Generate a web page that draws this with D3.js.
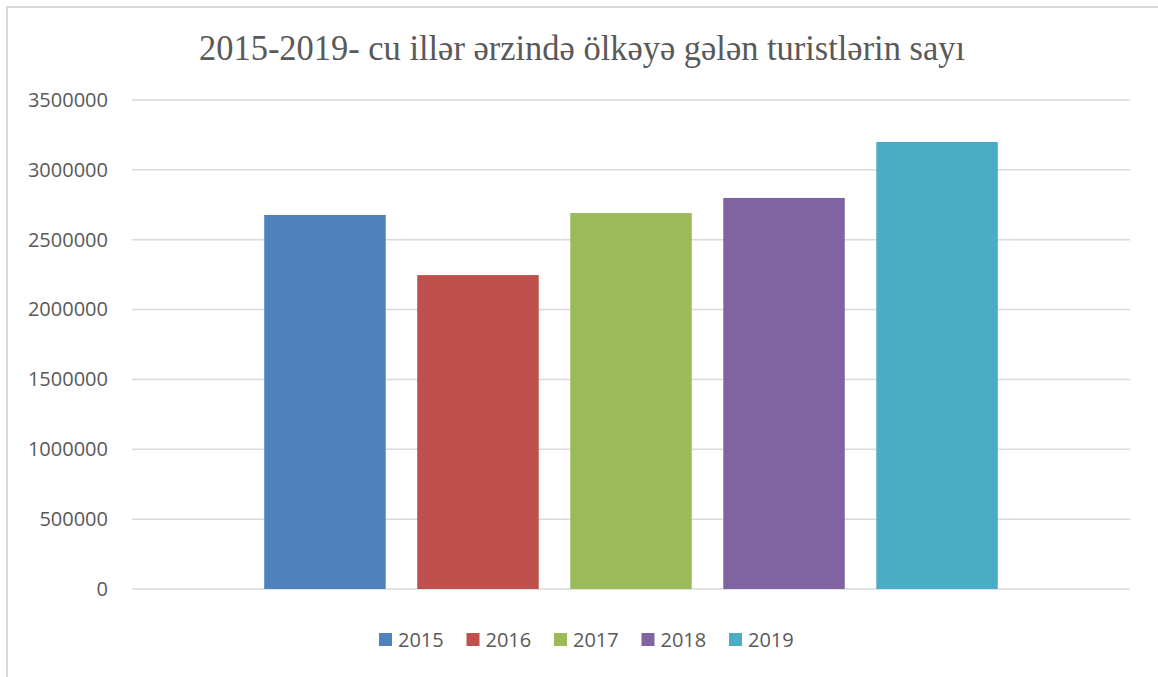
<!DOCTYPE html>
<html>
<head>
<meta charset="utf-8">
<script src="https://cdn.jsdelivr.net/npm/d3@7"></script>
<style>
  body { margin: 0; background: #fff; }
  svg { display: block; }
  .title { font-family: 'Liberation Serif', 'Times New Roman', Times, serif; }
  .lbl { font-family: 'Open Sans', sans-serif; }
</style>
</head>
<body>
<div id="chart"></div>
<script>
// chart data
var years = ['2015', '2016', '2017', '2018', '2019'];
var tourists = [2677000, 2247000, 2691000, 2799000, 3200000];
var colors = ['#4f81bd', '#c0504d', '#9bbb59', '#8064a2', '#4bacc6'];
var yTicks = [0, 500000, 1000000, 1500000, 2000000, 2500000, 3000000, 3500000];
var title = '2015-2019- cu illər ərzində ölkəyə gələn turistlərin sayı';

var width = 1158, height = 677;
var margin = {top: 100, right: 28, bottom: 88, left: 132};
var innerW = width - margin.left - margin.right,
    innerH = height - margin.top - margin.bottom;

var svg = d3.select('#chart').append('svg')
    .attr('width', width)
    .attr('height', height);

// chart area border
svg.append('rect')
    .attr('x', 7).attr('y', 7)
    .attr('width', width).attr('height', height)
    .attr('fill', 'none')
    .attr('stroke', '#d9d9d9')
    .attr('stroke-width', 2);

svg.append('text')
    .attr('class', 'title')
    .attr('x', 582)
    .attr('y', 60)
    .attr('text-anchor', 'middle')
    .attr('font-size', 35)
    .attr('fill', '#595959')
    .attr('textLength', 766)
    .attr('lengthAdjust', 'spacingAndGlyphs')
    .text(title);

var g = svg.append('g')
    .attr('transform', 'translate(' + margin.left + ',' + margin.top + ')');

var y = d3.scaleLinear()
    .domain([0, 3500000])
    .range([innerH, 0]);

// single category, one bar per year
var x = d3.scaleBand()
    .domain(years)
    .range([0, innerW])
    .paddingInner(0.206)
    .paddingOuter(0.864);

// gridlines
g.selectAll('.grid')
  .data(yTicks)
  .enter().append('line')
    .attr('class', 'grid')
    .attr('x1', 0)
    .attr('x2', innerW)
    .attr('y1', function(d) { return y(d); })
    .attr('y2', function(d) { return y(d); })
    .attr('stroke', '#d9d9d9')
    .attr('stroke-width', 1.5);

var yAxis = g.append('g')
    .call(d3.axisLeft(y).tickValues(yTicks).tickSize(0).tickPadding(24).tickFormat(d3.format('d')));
yAxis.select('.domain').remove();
yAxis.selectAll('text')
    .attr('class', 'lbl')
    .attr('font-size', 20)
    .attr('fill', '#595959');

g.selectAll('.bar')
  .data(tourists)
  .enter().append('rect')
    .attr('class', 'bar')
    .attr('x', function(d, i) { return x(years[i]); })
    .attr('y', function(d) { return y(d); })
    .attr('width', x.bandwidth())
    .attr('height', function(d) { return innerH - y(d); })
    .attr('fill', function(d, i) { return colors[i]; });

// legend
var legendStep = 87.5;
var legend = svg.append('g')
    .attr('transform', 'translate(379,633)');

var item = legend.selectAll('.item')
  .data(years)
  .enter().append('g')
    .attr('class', 'item')
    .attr('transform', function(d, i) { return 'translate(' + (i * legendStep) + ',0)'; });

item.append('rect')
    .attr('width', 13)
    .attr('height', 13)
    .attr('fill', function(d, i) { return colors[i]; });

item.append('text')
    .attr('class', 'lbl')
    .attr('x', 19)
    .attr('y', 14)
    .attr('font-size', 20)
    .attr('fill', '#595959')
    .text(function(d) { return d; });
</script>
</body>
</html>
